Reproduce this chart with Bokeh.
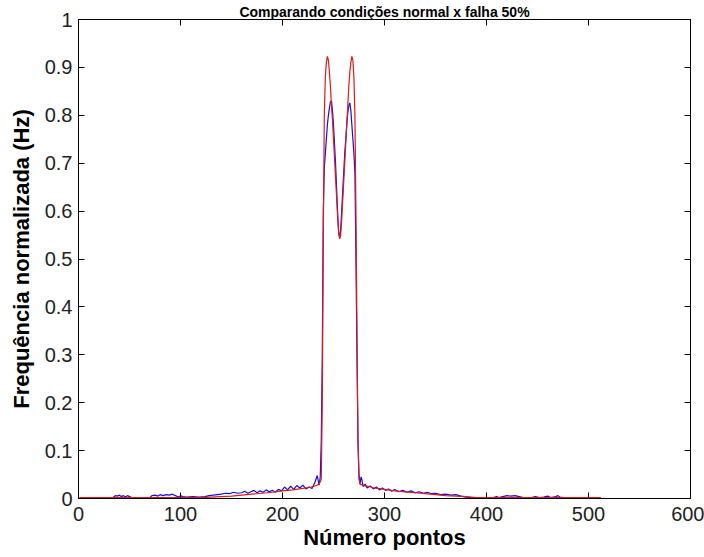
from bokeh.plotting import figure
from bokeh.models import FixedTicker, LinearAxis, ColumnDataSource, Range1d
from bokeh.embed import file_html
from bokeh.resources import INLINE

# ---- data ----
title_text = "Comparando condições normal x falha 50%"
x_label = "Número pontos"
y_label = "Frequência normalizada (Hz)"

x_ticks = [0, 100, 200, 300, 400, 500, 600]
y_ticks = [0, 0.1, 0.2, 0.3, 0.4, 0.5, 0.6, 0.7, 0.8, 0.9, 1]
y_tick_labels = ["0", "0.1", "0.2", "0.3", "0.4", "0.5", "0.6", "0.7", "0.8", "0.9", "1"]

# red series (normal)
red_x = [1, 20, 40, 60, 80, 100, 120, 130, 140, 150, 160, 170, 180, 190, 200, 210, 220, 228,
         233, 236, 238, 239, 240, 241, 242, 243, 244, 245, 246, 247, 248, 249, 250, 251, 252,
         253, 254, 255, 256, 257, 258, 259, 260, 261, 262, 263, 264, 265, 266, 267, 268, 269,
         270, 271, 272, 273, 274, 275, 276, 280, 285, 290, 300, 310, 320, 330, 340, 350, 360,
         370, 380, 390, 400, 450, 512]
red_y = [0.002, 0.002, 0.002, 0.002, 0.002, 0.002, 0.002, 0.003, 0.004, 0.005, 0.007, 0.009,
         0.011, 0.013, 0.016, 0.018, 0.021, 0.024, 0.027, 0.03, 0.04, 0.2, 0.55, 0.8, 0.88,
         0.91, 0.923, 0.915, 0.89, 0.86, 0.82, 0.79, 0.75, 0.71, 0.67, 0.63, 0.59, 0.56, 0.542,
         0.55, 0.58, 0.62, 0.66, 0.70, 0.74, 0.78, 0.82, 0.86, 0.89, 0.91, 0.923, 0.915, 0.88,
         0.8, 0.6, 0.35, 0.12, 0.04, 0.03, 0.027, 0.025, 0.022, 0.019, 0.016, 0.014, 0.012,
         0.01, 0.008, 0.006, 0.005, 0.004, 0.002, 0.002, 0.002, 0.002]

# blue series (falha 50%)
blue_x = [1, 5, 10, 20, 30, 34, 36, 38, 40, 42, 44, 46, 48, 50, 52, 60, 70, 72, 75, 78, 80, 83,
          86, 89, 92, 95, 98, 100, 102, 106, 112, 118, 124, 128, 132, 136, 140, 144, 148, 152,
          156, 160, 163, 166, 169, 172, 175, 178, 181, 184, 187, 190, 193, 196, 199, 202, 205,
          208, 211, 214, 217, 220, 223, 226, 229, 232, 234, 236, 237, 238, 239, 240, 241, 242,
          243, 244, 245, 246, 247, 248, 249, 250, 251, 252, 253, 254, 255, 256, 257, 258, 259,
          260, 261, 262, 263, 264, 265, 266, 267, 268, 269, 270, 271, 272, 273, 274, 275, 276,
          277, 278, 279, 281, 283, 286, 289, 292, 295, 298, 301, 304, 307, 310, 314, 318, 322,
          326, 330, 334, 338, 342, 346, 350, 355, 360, 365, 370, 375, 380, 385, 390, 400, 405,
          410, 412, 416, 420, 424, 428, 432, 436, 444, 448, 452, 456, 460, 463, 468, 470, 472,
          476, 486, 490, 500, 512]
blue_y = [0.001, 0.001, 0.002, 0.001, 0.001, 0.002, 0.006, 0.005, 0.007, 0.004, 0.006, 0.003,
          0.006, 0.004, 0.002, 0.002, 0.002, 0.006, 0.007, 0.005, 0.008, 0.006, 0.008, 0.007,
          0.009, 0.006, 0.003, 0.006, 0.004, 0.003, 0.004, 0.003, 0.004, 0.006, 0.007, 0.008,
          0.009, 0.011, 0.010, 0.013, 0.011, 0.012, 0.015, 0.011, 0.014, 0.017, 0.012, 0.016,
          0.013, 0.018, 0.014, 0.017, 0.013, 0.019, 0.016, 0.024, 0.018, 0.026, 0.019, 0.027,
          0.022, 0.028, 0.020, 0.024, 0.021, 0.035, 0.048, 0.028, 0.045, 0.12, 0.3, 0.6, 0.69,
          0.72, 0.75, 0.78, 0.80, 0.815, 0.828, 0.83, 0.81, 0.78, 0.74, 0.70, 0.65, 0.60, 0.555,
          0.545, 0.56, 0.60, 0.64, 0.68, 0.72, 0.75, 0.78, 0.805, 0.82, 0.826, 0.81, 0.78, 0.75,
          0.72, 0.68, 0.5, 0.3, 0.12, 0.05, 0.03, 0.045, 0.038, 0.025, 0.03, 0.022, 0.026, 0.02,
          0.024, 0.018, 0.022, 0.017, 0.02, 0.015, 0.019, 0.014, 0.017, 0.013, 0.016, 0.012,
          0.014, 0.011, 0.013, 0.010, 0.011, 0.008, 0.009, 0.007, 0.008, 0.005, 0.003, 0.002,
          0.002, 0.002, 0.001, 0.004, 0.002, 0.004, 0.006, 0.005, 0.006, 0.004, 0.002, 0.002,
          0.004, 0.002, 0.003, 0.005, 0.002, 0.004, 0.006, 0.003, 0.002, 0.002, 0.001, 0.002,
          0.001]

FONT = "Liberation Sans"

p = figure(width=704, height=557, output_backend="svg", toolbar_location=None,
           x_range=Range1d(0, 600), y_range=Range1d(0, 1),
           min_border_left=78, min_border_right=14, min_border_top=18, min_border_bottom=59)
p.background_fill_color = "white"
p.border_fill_color = "white"
p.outline_line_color = "black"
p.outline_line_width = 1
p.xgrid.visible = False
p.ygrid.visible = False

blue_src = ColumnDataSource(dict(x=blue_x, y=blue_y))
red_src = ColumnDataSource(dict(x=red_x, y=red_y))
p.line("x", "y", source=blue_src, line_color="#1010e8", line_width=1.2)
p.line("x", "y", source=red_src, line_color="#e01818", line_width=1.2)

def style_axis(ax, show_labels=True):
    ax.axis_line_color = "black"
    ax.major_tick_line_color = "black"
    ax.major_tick_in = 6
    ax.major_tick_out = 0
    ax.minor_tick_line_color = None
    ax.major_label_text_font = FONT
    if show_labels:
        ax.major_label_text_font_size = "20px"
        ax.major_label_text_color = "#222222"
    else:
        ax.major_label_text_font_size = "1px"
        ax.major_label_text_color = None
        ax.major_label_standoff = 0
    ax.axis_label_text_font = FONT
    ax.axis_label_text_font_size = "22px"
    ax.axis_label_text_font_style = "bold"
    ax.axis_label_text_color = "black"

xa = p.xaxis[0]
xa.ticker = FixedTicker(ticks=x_ticks)
style_axis(xa)
xa.major_label_standoff = 8
xa.axis_label = x_label
xa.axis_label_standoff = 1

ya = p.yaxis[0]
ya.ticker = FixedTicker(ticks=y_ticks)
ya.major_label_overrides = {t: s for t, s in zip(y_ticks, y_tick_labels)}
style_axis(ya)
ya.major_label_standoff = 6
ya.axis_label = y_label
ya.axis_label_standoff = 8

# top axis carries the title (it has to fit in the thin strip above the box)
top = LinearAxis(ticker=FixedTicker(ticks=x_ticks))
style_axis(top, show_labels=False)
top.axis_label = title_text
top.axis_label_text_font_size = "14px"
top.axis_label_standoff = 0
p.add_layout(top, "above")

right = LinearAxis(ticker=FixedTicker(ticks=y_ticks))
style_axis(right, show_labels=False)
p.add_layout(right, "right")

open("out.html", "w").write(file_html(p, INLINE))
